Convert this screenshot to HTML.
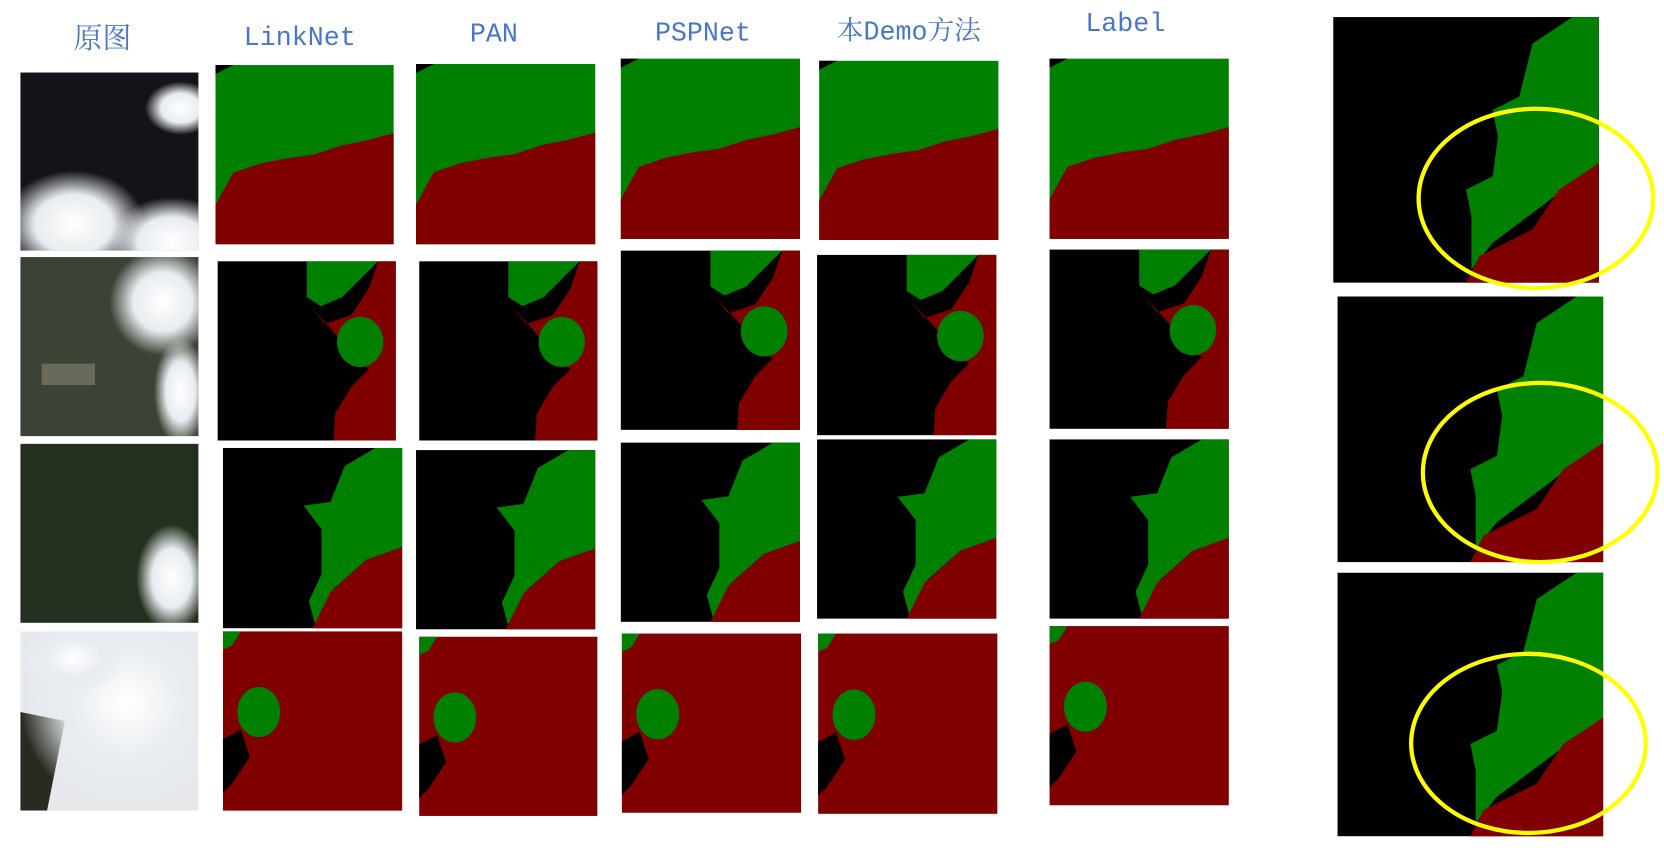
<!DOCTYPE html>
<html><head><meta charset="utf-8">
<style>
html,body{margin:0;padding:0;background:#fff;width:1664px;height:865px;overflow:hidden}
svg{display:block}
text{font-family:"Liberation Mono","Noto Serif CJK SC",serif;fill:#4a76c8}
</style></head>
<body>
<svg id="fig" width="1664" height="865" viewBox="0 0 1560 811" xmlns="http://www.w3.org/2000/svg">
<defs id="defs">
<radialGradient id="cloud" cx="50%" cy="50%" r="50%">
<stop offset="0" stop-color="#ffffff"/><stop offset="0.55" stop-color="#e8ecf0"/><stop offset="1" stop-color="#e8ecf0" stop-opacity="0"/>
</radialGradient>
</defs>
<text x="96" y="45" font-size="27" text-anchor="middle">原图</text>
<text x="281" y="42" font-size="25" text-anchor="middle">LinkNet</text>
<text x="463" y="39" font-size="25" text-anchor="middle">PAN</text>
<text x="659" y="38" font-size="25" text-anchor="middle">PSPNet</text>
<text x="852" y="37" font-size="25" text-anchor="middle">本Demo方法</text>
<text x="1055" y="29" font-size="25" text-anchor="middle">Label</text>
<g id="panels"></g>
</svg>
<script>
var NS='http://www.w3.org/2000/svg';
var G='#008000', R='#800000', K='#000000';
var patterns={
A:{bg:G,shapes:[[R,[[0,0.78],[0.1,0.6],[0.25,0.55],[0.4,0.52],[0.55,0.5],[0.7,0.45],[0.85,0.42],[1,0.38],[1,1],[0,1]]],[K,[[0,0],[0.1,0],[0,0.05]]]]},
B:{bg:K,shapes:[[R,[[0.52,0.25],[0.6,0.35],[0.75,0.3],[0.85,0.15],[0.9,0],[1,0],[1,1],[0.65,1],[0.66,0.85],[0.75,0.7],[0.85,0.6],[0.75,0.55],[0.7,0.45]]],[G,[[0.5,0],[0.9,0],[0.8,0.1],[0.7,0.2],[0.58,0.25],[0.5,0.2]]]],blob:[0.8,0.45,0.13,0.14,G]},
C:{bg:K,shapes:[[G,[[0.45,0.32],[0.6,0.3],[0.68,0.1],[0.85,0],[1,0],[1,0.55],[0.8,0.62],[0.62,0.78],[0.52,1],[0.48,0.85],[0.55,0.7],[0.55,0.45]]],[R,[[0.5,1],[0.6,0.8],[0.8,0.62],[1,0.55],[1,1]]]]},
D:{bg:R,shapes:[[K,[[0,0.6],[0.1,0.55],[0.15,0.7],[0.05,0.85],[0,0.9]]],[G,[[0,0],[0.1,0],[0.05,0.08],[0,0.1]]]],blob:[0.2,0.45,0.12,0.14,G]},
E:{bg:K,shapes:[[G,[[0.6,0.35],[0.7,0.3],[0.75,0.1],[0.9,0],[1,0],[1,0.55],[0.6,0.85],[0.52,0.95],[0.52,0.75],[0.5,0.65],[0.6,0.6],[0.62,0.45]]],[R,[[0.5,1],[0.55,0.9],[0.75,0.8],[0.85,0.65],[1,0.55],[1,1]]]]}
};
var rowPat=['A','B','C','D'];
var cols=[
 {name:'linknet',boxes:[[202,61,167,168],[204,245,167,168],[209,420,168,169],[209,592,168,168]]},
 {name:'pan',boxes:[[390,60,168,169],[393,245,167,168],[390,422,168,168],[393,597,167,168]]},
 {name:'pspnet',boxes:[[582,55,168,169],[582,235,168,168],[582,415,168,168],[583,594,168,168]]},
 {name:'demo',boxes:[[768,57,168,168],[766,239,168,169],[766,412,168,168],[767,594,168,169]]},
 {name:'label',boxes:[[984,55,168,169],[984,234,168,168],[984,412,168,168],[984,587,168,168]]}
];
var orig=[[19,68,167,167],[19,241,167,168],[19,416,167,168],[19,592,167,168]];
var big=[[1250,16,249,249],[1254,278,249,249],[1254,537,249,247]];
var ellipses=[[1440,186,110,84],[1444,443,110,84],[1433,697,110,84]];
var root=document.getElementById('panels');
var defs=document.getElementById('defs');
function mk(tag,attrs,parent){var e=document.createElementNS(NS,tag);for(var k in attrs)e.setAttribute(k,attrs[k]);(parent||root).appendChild(e);return e;}
function drawSeg(b,p,name){
 var g=mk('g',{});
 
 
 var x=b[0],y=b[1],w=b[2],h=b[3],pat=patterns[p];
 mk('rect',{x:x,y:y,width:w,height:h,fill:pat.bg},g);
 pat.shapes.forEach(function(s){
  var pts=s[1].map(function(q){return (x+q[0]*w).toFixed(1)+','+(y+q[1]*h).toFixed(1)}).join(' ');
  mk('polygon',{points:pts,fill:s[0]},g);
 });
 if(pat.blob){var bl=pat.blob;mk('ellipse',{cx:x+bl[0]*w,cy:y+bl[1]*h,rx:bl[2]*w,ry:bl[3]*h,fill:bl[4]},g);}
}
cols.forEach(function(c){c.boxes.forEach(function(b,i){drawSeg(b,rowPat[i],c.name+'-row'+(i+1));});});
var photoBg=['#14131a','#3c4236','#24301f','#e6e8ec'];
var clouds=[[[0.3,0.85,0.4,0.3],[0.85,0.95,0.35,0.25],[0.9,0.2,0.2,0.15]],[[0.8,0.25,0.3,0.3],[0.9,0.75,0.15,0.3]],[[0.85,0.75,0.2,0.3]],[[0.6,0.4,0.6,0.6],[0.3,0.15,0.3,0.2]]];
orig.forEach(function(b,i){
 var cp=mk('clipPath',{id:'clip'+i},defs);
 mk('rect',{x:b[0],y:b[1],width:b[2],height:b[3]},cp);
 var g=mk('g',{'clip-path':'url(#clip'+i+')'});
 
 
 mk('rect',{x:b[0],y:b[1],width:b[2],height:b[3],fill:photoBg[i]},g);
 if(i==3){mk('polygon',{points:[b[0],b[1]+b[3]*0.45,b[0]+b[2]*0.25,b[1]+b[3]*0.5,b[0]+b[2]*0.15,b[1]+b[3],b[0],b[1]+b[3]].join(' '),fill:'#2a2a22'},g);}
 if(i==1){mk('rect',{x:b[0]+20,y:b[1]+100,width:50,height:20,fill:'#6a6a5a'},g);}
 clouds[i].forEach(function(c){mk('ellipse',{cx:b[0]+c[0]*b[2],cy:b[1]+c[1]*b[3],rx:c[2]*b[2],ry:c[3]*b[3],fill:'url(#cloud)'},g);});
});
big.forEach(function(b,i){drawSeg(b,'E','zoomed-detail-'+(i+1));});
ellipses.forEach(function(e,i){
 var el=mk('ellipse',{cx:e[0],cy:e[1],rx:e[2],ry:e[3],fill:'none',stroke:'#ffff00','stroke-width':4});
 
 
});
</script>
</body></html>
